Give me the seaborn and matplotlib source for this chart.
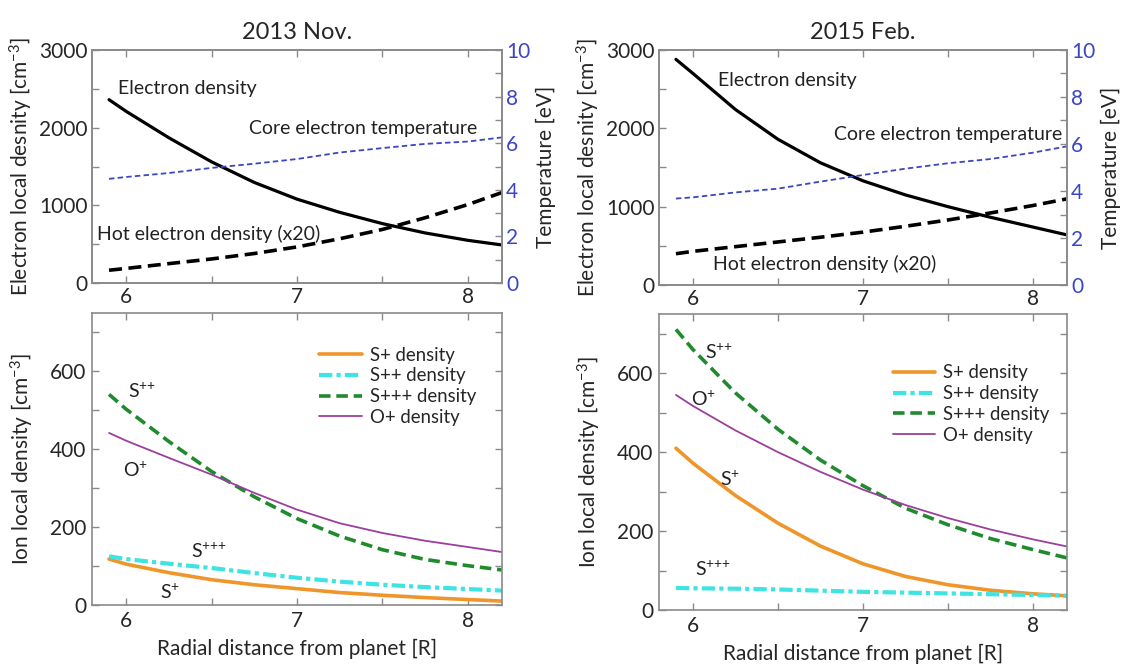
import numpy as np
import pandas as pd
import matplotlib
matplotlib.use("Agg")
import matplotlib.pyplot as plt
from matplotlib.ticker import MultipleLocator
import seaborn as sns

# ---------------- data ----------------
r = [5.9, 6.0, 6.25, 6.5, 6.75, 7.0, 7.25, 7.5, 7.75, 8.0, 8.2]

# 2013 Nov.
ne_2013 = [2360, 2210, 1870, 1560, 1295, 1080, 910, 765, 645, 550, 490]
hot_2013 = [165, 188, 250, 310, 380, 465, 570, 690, 840, 1010, 1165]
te_2013 = [4.47, 4.55, 4.72, 4.94, 5.12, 5.32, 5.60, 5.79, 5.97, 6.07, 6.25]
splus_2013 = [118, 105, 83, 65, 52, 42, 32, 25, 19, 14, 10]
s2plus_2013 = [125, 118, 106, 95, 82, 70, 60, 52, 46, 41, 37]
s3plus_2013 = [541, 503, 420, 343, 278, 222, 177, 142, 117, 101, 90]
oplus_2013 = [442, 422, 378, 335, 288, 245, 210, 185, 165, 149, 136]

# 2015 Feb.
ne_2015 = [2880, 2700, 2240, 1860, 1560, 1330, 1150, 1000, 865, 740, 640]
hot_2015 = [400, 430, 490, 550, 610, 675, 750, 830, 920, 1015, 1100]
te_2015 = [3.68, 3.73, 3.94, 4.10, 4.40, 4.68, 4.95, 5.18, 5.36, 5.63, 5.90]
splus_2015 = [410, 372, 290, 220, 162, 117, 85, 64, 50, 41, 36]
s2plus_2015 = [56, 55, 54, 52, 49, 46, 44, 42, 40, 38, 36]
s3plus_2015 = [711, 660, 550, 458, 380, 315, 258, 216, 181, 153, 132]
oplus_2015 = [545, 517, 455, 400, 350, 305, 266, 233, 204, 179, 161]

titles = ["2013 Nov.", "2015 Feb."]
legend_labels = ["S+ density", "S++ density", "S+++ density", "O+ density"]

# ---------------- style ----------------
sns.set_theme(style="ticks")
plt.rcParams["font.family"] = ["Lato", "DejaVu Sans"]
plt.rcParams["mathtext.fontset"] = "custom"
plt.rcParams["mathtext.rm"] = "Lato"
plt.rcParams["mathtext.it"] = "Lato:italic"
plt.rcParams["axes.edgecolor"] = "#8a8a8a"
plt.rcParams["axes.linewidth"] = 1.2

BLUE = "#3a46c4"
ORANGE = "#f0952a"
CYAN = "#3ee3e3"
GREEN = "#1f8a2e"
PURPLE = "#9c3f9c"
TICKFS = 15
LABFS = 15
ANNFS = 14

fig = plt.figure(figsize=(11.27, 6.66), dpi=100)
ax_tl = fig.add_axes([0.0816, 0.575, 0.3638, 0.350])
ax_tr = fig.add_axes([0.5847, 0.572, 0.3620, 0.353])
ax_bl = fig.add_axes([0.0816, 0.0916, 0.3638, 0.4384])
ax_br = fig.add_axes([0.5847, 0.0841, 0.3620, 0.4444])


def style_x(ax):
    ax.set_xlim(5.8, 8.2)
    ax.xaxis.set_major_locator(MultipleLocator(1))
    ax.xaxis.set_minor_locator(MultipleLocator(0.5))


def top_panel(ax, ne, hot, te, title, ann):
    df = pd.DataFrame({"r": r, "ne": ne, "hot": hot, "te": te})
    sns.lineplot(data=df, x="r", y="ne", ax=ax, color="black", lw=2.3)
    sns.lineplot(data=df, x="r", y="hot", ax=ax, color="black", lw=2.6)
    ax.lines[-1].set_linestyle((0, (3.6, 1.8)))
    style_x(ax)
    ax.set_ylim(0, 3000)
    ax.yaxis.set_major_locator(MultipleLocator(1000))
    ax.yaxis.set_minor_locator(MultipleLocator(500))
    ax.tick_params(which="both", direction="in", top=True, bottom=True,
                   left=True, right=False, length=5, width=1, color="#8a8a8a",
                   labelsize=TICKFS, pad=3)
    ax.set_xlabel("")
    ax.set_ylabel("Electron local desnity [cm$^{-3}$]", fontsize=LABFS, labelpad=3)
    ax.set_title(title, fontsize=17, pad=8)

    ax2 = ax.twinx()
    sns.lineplot(data=df, x="r", y="te", ax=ax2, color=BLUE, lw=1.3)
    ax2.lines[-1].set_linestyle((0, (3.0, 1.8)))
    ax2.set_ylim(0, 10)
    ax2.yaxis.set_major_locator(MultipleLocator(2))
    ax2.yaxis.set_minor_locator(MultipleLocator(1))
    ax2.tick_params(which="both", direction="in", right=True, length=5, width=1,
                    color="#8a8a8a", labelcolor=BLUE, labelsize=TICKFS, pad=3)
    ax2.set_ylabel("Temperature [eV]", fontsize=LABFS, labelpad=4)
    ax2.set_xlabel("")
    for s in ax2.spines.values():
        s.set_color("#8a8a8a")
    for (x, y, t) in ann:
        ax.text(x, y, t, fontsize=ANNFS, ha="left", va="center", color="#222222")
    return ax2


def bottom_panel(ax, sp, s2p, s3p, op, ann, leg_anchor):
    df = pd.DataFrame({"r": r, "sp": sp, "s2p": s2p, "s3p": s3p, "op": op})
    sns.lineplot(data=df, x="r", y="sp", ax=ax, color=ORANGE, lw=2.6,
                 label=legend_labels[0])
    sns.lineplot(data=df, x="r", y="s2p", ax=ax, color=CYAN, lw=3.0,
                 label=legend_labels[1])
    ax.lines[-1].set_linestyle((0, (3.2, 1.0, 1.0, 1.0)))
    sns.lineplot(data=df, x="r", y="s3p", ax=ax, color=GREEN, lw=2.6,
                 label=legend_labels[2])
    ax.lines[-1].set_linestyle((0, (3.2, 1.6)))
    sns.lineplot(data=df, x="r", y="op", ax=ax, color=PURPLE, lw=1.3,
                 label=legend_labels[3])
    style_x(ax)
    ax.set_ylim(0, 750)
    ax.yaxis.set_major_locator(MultipleLocator(200))
    ax.yaxis.set_minor_locator(MultipleLocator(100))
    ax.tick_params(which="both", direction="in", top=True, bottom=True,
                   left=True, right=True, length=5, width=1, color="#8a8a8a",
                   labelsize=TICKFS, pad=4)
    ax.set_xlabel("Radial distance from planet [R]", fontsize=LABFS, labelpad=6)
    ax.set_ylabel("Ion local density [cm$^{-3}$]", fontsize=LABFS, labelpad=10)
    for (x, y, t) in ann:
        ax.text(x, y, t, fontsize=ANNFS, ha="left", va="center", color="#222222")
    ax.legend(loc="upper right", bbox_to_anchor=leg_anchor, frameon=False,
              fontsize=13.4, handlelength=2.3, handletextpad=0.4,
              labelspacing=0.2, borderaxespad=0)


top_panel(ax_tl, ne_2013, hot_2013, te_2013, titles[0],
          [(5.95, 2500, "Electron density"),
           (6.72, 1995, "Core electron temperature"),
           (5.83, 630, "Hot electron density (x20)")])
top_panel(ax_tr, ne_2015, hot_2015, te_2015, titles[1],
          [(6.15, 2610, "Electron density"),
           (6.83, 1920, "Core electron temperature"),
           (6.12, 275, "Hot electron density (x20)")])

bottom_panel(ax_bl, splus_2013, s2plus_2013, s3plus_2013, oplus_2013,
             [(6.01, 550, "S$^{{+}{+}}$"), (5.98, 345, "O$^{{+}}$"),
              (6.38, 137, "S$^{{+}{+}{+}}$"), (6.20, 32, "S$^{{+}}$")],
             (0.955, 0.91))
bottom_panel(ax_br, splus_2015, s2plus_2015, s3plus_2015, oplus_2015,
             [(6.07, 652, "S$^{{+}{+}}$"), (5.99, 534, "O$^{{+}}$"),
              (6.16, 331, "S$^{{+}}$"), (6.01, 102, "S$^{{+}{+}{+}}$")],
             (0.975, 0.855))

fig.savefig("out.png", dpi=100)
